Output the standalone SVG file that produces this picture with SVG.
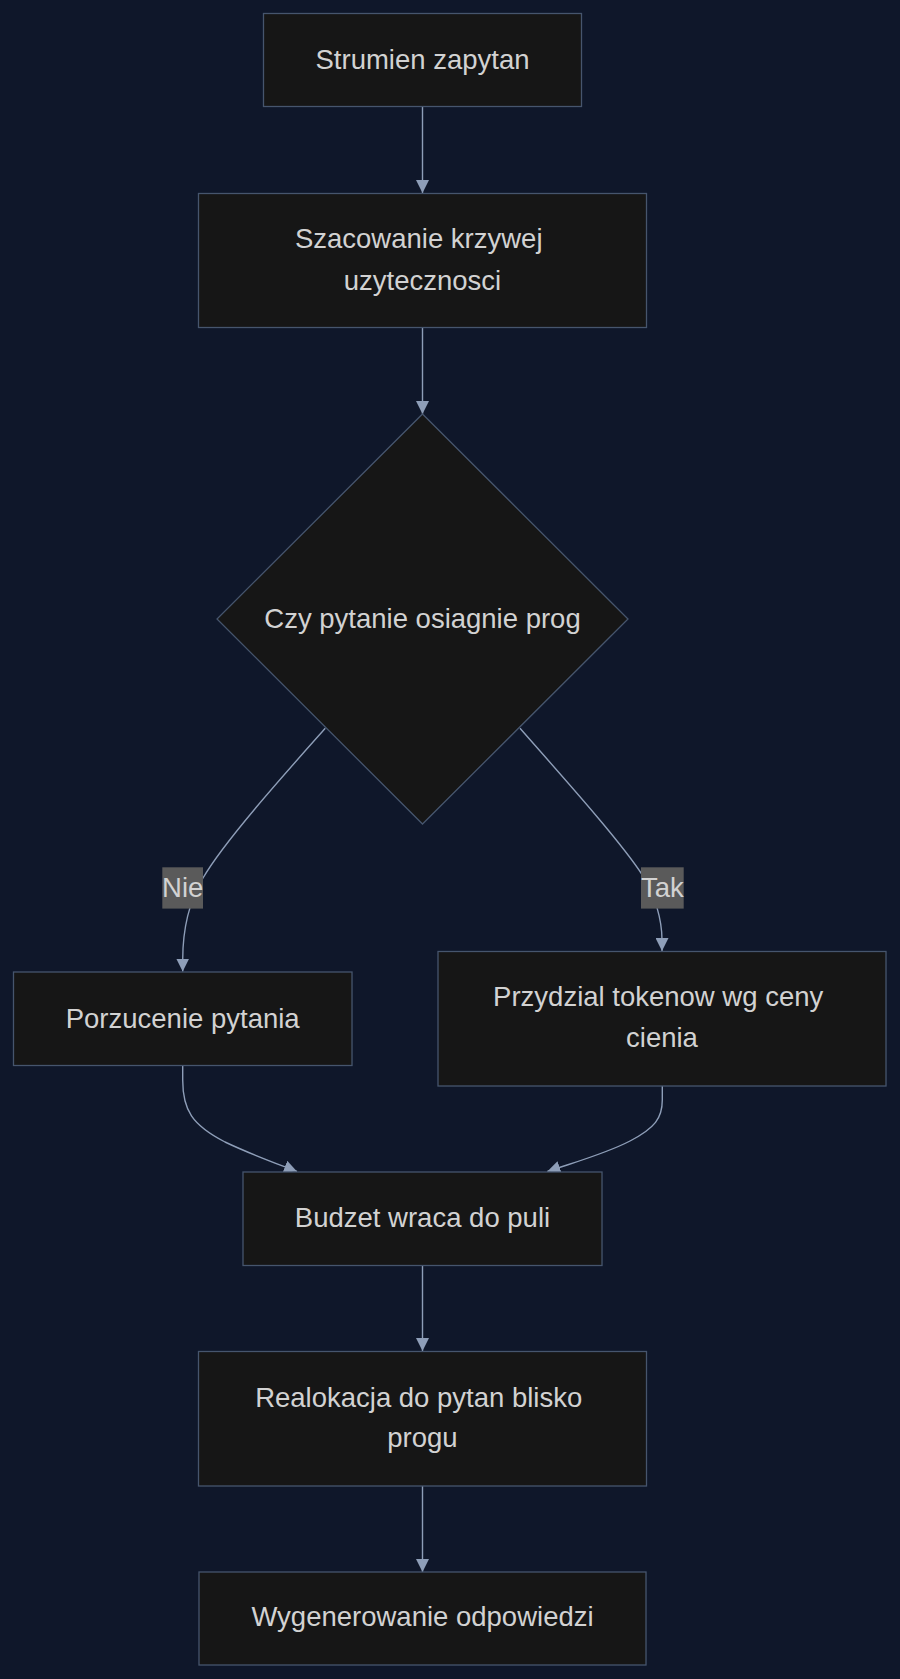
<svg xmlns="http://www.w3.org/2000/svg" width="900" height="1679" viewBox="0 0 900 1679">
<style>
.node rect,.node polygon{fill:#161616;stroke:#46556d;stroke-width:1.3}
.lbl{font-family:"Liberation Sans",Arial,sans-serif;font-size:27.5px;fill:#d2d2d2;text-anchor:middle}
.edge{fill:none;stroke:#8e9eb8;stroke-width:1.4}
.elbg{fill:#5a5a5a}
</style>
<defs>
<marker id="arr" markerUnits="userSpaceOnUse" markerWidth="13" markerHeight="13" viewBox="0 0 10 10" refX="10" refY="5" orient="auto">
<path d="M0,0 L10,5 L0,10 z" fill="#8e9eb8"/>
</marker>
</defs>
<rect x="0" y="0" width="900" height="1679" fill="#0f172a"/>
<g id="connectors">
<path class="edge" d="M422.5,106.5 L422.5,193" marker-end="url(#arr)"/>
<path class="edge" d="M422.5,327.5 L422.5,414" marker-end="url(#arr)"/>
<path class="edge" d="M325.3,728.3 C290,768 225,840 203,878 C190,900 182.7,925 182.7,960 L182.7,971.5" marker-end="url(#arr)"/>
<path class="edge" d="M520,728.3 C552,765 620,840 643,876 C655,895 662,920 662,940 L662,951" marker-end="url(#arr)"/>
<path class="edge" d="M182.7,1065.7 L182.7,1080 C182.7,1110 192,1125 225,1142 C250,1154 275,1163 297,1171.5" marker-end="url(#arr)"/>
<path class="edge" d="M662.3,1086 L662.3,1100 C662.3,1118 655,1128 630,1141 C605,1154 575,1162 547.3,1171.5" marker-end="url(#arr)"/>
<path class="edge" d="M422.5,1265.5 L422.5,1351" marker-end="url(#arr)"/>
<path class="edge" d="M422.5,1486 L422.5,1572" marker-end="url(#arr)"/>
<g id="label-nie">
<rect class="elbg" x="162.3" y="867.3" width="40.7" height="41.3"/>
<text class="lbl" x="182.7" y="896.7">Nie</text>
</g>
<g id="label-tak">
<rect class="elbg" x="641" y="867.3" width="42.7" height="41.3"/>
<text class="lbl" x="662.3" y="896.7">Tak</text>
</g>
</g>
<g id="n1" class="node">
<rect x="263.5" y="13.5" width="318" height="93"/>
<text class="lbl" x="422.5" y="69.3">Strumien zapytan</text>
</g>
<g id="n2" class="node">
<rect x="198.5" y="193.5" width="448" height="134"/>
<text class="lbl" x="418.7" y="248.3">Szacowanie krzywej</text>
<text class="lbl" x="422.5" y="290">uzytecznosci</text>
</g>
<g id="n3" class="node">
<polygon points="422.5,414 628,619 422.5,824 217,619"/>
<text class="lbl" x="422.5" y="628.3">Czy pytanie osiagnie prog</text>
</g>
<g id="n4" class="node">
<rect x="13.5" y="972" width="338.5" height="93.5"/>
<text class="lbl" x="182.7" y="1028.3">Porzucenie pytania</text>
</g>
<g id="n5" class="node">
<rect x="438" y="951.5" width="448" height="134.5"/>
<text class="lbl" x="658.2" y="1006">Przydzial tokenow wg ceny</text>
<text class="lbl" x="662" y="1046.7">cienia</text>
</g>
<g id="n6" class="node">
<rect x="243" y="1172" width="359" height="93.5"/>
<text class="lbl" x="422.5" y="1227.3">Budzet wraca do puli</text>
</g>
<g id="n7" class="node">
<rect x="198.5" y="1351.5" width="448" height="134.5"/>
<text class="lbl" x="418.7" y="1406.7">Realokacja do pytan blisko</text>
<text class="lbl" x="422.5" y="1447.3">progu</text>
</g>
<g id="n8" class="node">
<rect x="199" y="1572" width="447" height="93"/>
<text class="lbl" x="422.5" y="1626">Wygenerowanie odpowiedzi</text>
</g>
</svg>
